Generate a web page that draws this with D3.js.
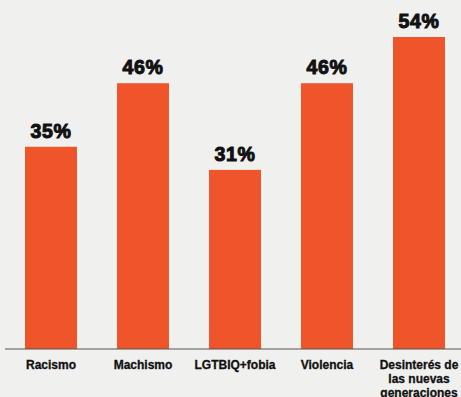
<!DOCTYPE html>
<html><head><meta charset="utf-8">
<script src="https://cdn.jsdelivr.net/npm/d3@7"></script>
<style>
html,body{margin:0;padding:0;background:#f0f0ef;overflow:hidden;}
svg{display:block;}
</style></head>
<body><svg id="c" width="461" height="397"></svg>
<script>
const categories = ["Racismo", "Machismo", "LGTBIQ+fobia", "Violencia", "Desinterés de|las nuevas|generaciones"];
const values = [35, 46, 31, 46, 54];
const labels = ["35%", "46%", "31%", "46%", "54%"];

const svg = d3.select("#c");
const W = 461, H = 397;
const baseY = 349;
const x = d3.scaleBand().domain(categories).range([5, 465]).paddingInner(0.435).paddingOuter(0.2175);
const y = d3.scaleLinear().domain([0, 54]).range([baseY, 37]);

svg.append("rect").attr("width", W).attr("height", H).attr("fill", "#f0f0ef");

svg.selectAll("rect.bar").data(values).enter().append("rect")
  .attr("class", "bar")
  .attr("x", (d, i) => x(categories[i]))
  .attr("width", x.bandwidth())
  .attr("y", d => y(d))
  .attr("height", d => baseY - y(d))
  .attr("fill", "#f0542a");

svg.selectAll("text.val").data(values).enter().append("text")
  .attr("class", "val")
  .attr("x", (d, i) => x(categories[i]) + x.bandwidth() / 2)
  .attr("y", d => y(d) - 9)
  .attr("text-anchor", "middle")
  .attr("font-family", "Liberation Sans, Arial, sans-serif")
  .attr("font-weight", "bold")
  .attr("font-size", 19.5)
  .attr("letter-spacing", 0.6)
  .attr("fill", "#111")
  .attr("stroke", "#111")
  .attr("stroke-width", 1)
  .text((d, i) => labels[i]);

const axis = d3.axisBottom(x).tickSize(0).tickFormat("");
const ag = svg.append("g").attr("transform", `translate(0,${baseY})`).call(axis);
ag.select(".domain").attr("d", `M5,0H461`).attr("stroke", "#555").attr("stroke-width", 1.2);

const cl = svg.selectAll("text.cat").data(categories).enter().append("text")
  .attr("class", "cat")
  .attr("x", d => x(d) + x.bandwidth() / 2)
  .attr("y", 369)
  .attr("text-anchor", "middle")
  .attr("font-family", "Liberation Sans, Arial, sans-serif")
  .attr("font-weight", "bold")
  .attr("font-size", 12)
  .attr("fill", "#111")
  .attr("stroke", "#111")
  .attr("stroke-width", 0.3);
cl.each(function(d) {
  const t = d3.select(this);
  d.split("|").forEach((line, k) => {
    t.append("tspan").attr("x", x(d) + x.bandwidth() / 2).attr("dy", k === 0 ? 0 : 14).text(line);
  });
});
</script></body></html>
